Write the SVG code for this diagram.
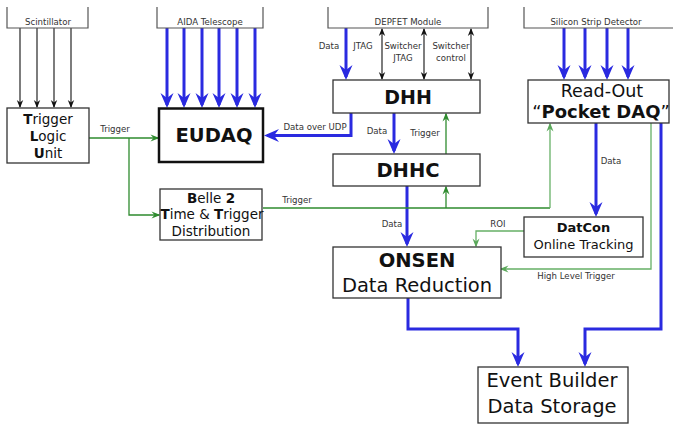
<svg xmlns="http://www.w3.org/2000/svg" width="673" height="426" viewBox="0 0 673 426">
<style>
text{font-family:"DejaVu Sans","Liberation Sans",sans-serif;text-anchor:middle;fill:#111}
.lbl{font-size:8.6px;fill:#333}
.br{fill:none;stroke:#555;stroke-width:1.2}
.box{fill:#fff;stroke:#333;stroke-width:1.3}
.blue{fill:none;stroke:#2a2ae0;stroke-width:3;marker-end:url(#ab)}
.blk{fill:none;stroke:#111;stroke-width:1.1;marker-end:url(#ak)}
.dbl{fill:none;stroke:#111;stroke-width:1.1;marker-end:url(#ak);marker-start:url(#ak)}
.g1{fill:none;stroke:#2e8b2e;stroke-width:1.3}
.g2{fill:none;stroke:#66b066;stroke-width:1.3}
.ga{marker-end:url(#ag)}
.gb{marker-end:url(#ag2)}
</style>
<defs>
<marker id="ab" viewBox="-16 -8 18 16" markerWidth="18" markerHeight="16" markerUnits="userSpaceOnUse" refX="-3" refY="0" orient="auto"><path d="M0,0 L-15,-6.5 L-10,0 L-15,6.5 Z" fill="#2a2ae0"/></marker>
<marker id="ak" viewBox="-10 -5 11 10" markerWidth="11" markerHeight="10" markerUnits="userSpaceOnUse" refX="-1" refY="0" orient="auto-start-reverse"><path d="M0,0 L-8,-3.2 L-5.5,0 L-8,3.2 Z" fill="#111"/></marker>
<marker id="ag" viewBox="-10 -5 11 10" markerWidth="11" markerHeight="10" markerUnits="userSpaceOnUse" refX="-1.5" refY="0" orient="auto"><path d="M0,0 L-9,-3.5 L-6,0 L-9,3.5 Z" fill="#2e8b2e"/></marker>
<marker id="ag2" viewBox="-10 -5 11 10" markerWidth="11" markerHeight="10" markerUnits="userSpaceOnUse" refX="-1.5" refY="0" orient="auto"><path d="M0,0 L-9,-3.5 L-6,0 L-9,3.5 Z" fill="#5aa85a"/></marker>
</defs>
<rect width="673" height="426" fill="#fff"/>

<g id="connectors">
<path class="blk" d="M20,28 V107"/>
<path class="blk" d="M37,28 V107"/>
<path class="blk" d="M54,28 V107"/>
<path class="blk" d="M71,28 V107"/>
<path class="blue" d="M167,28 V105"/>
<path class="blue" d="M184,28 V105"/>
<path class="blue" d="M202,28 V105"/>
<path class="blue" d="M219,28 V105"/>
<path class="blue" d="M237,28 V105"/>
<path class="blue" d="M255,28 V105"/>
<path class="blue" d="M346,28 V77"/>
<path class="dbl" d="M382,29 V79"/>
<path class="dbl" d="M424,29 V79"/>
<path class="dbl" d="M471,29 V79"/>
<path class="blue" d="M564,28 V77"/>
<path class="blue" d="M585,28 V77"/>
<path class="blue" d="M607,28 V77"/>
<path class="blue" d="M628,28 V77"/>
<path class="blue" d="M351,113 V135.5 H267"/>
<path class="blue" d="M394,113 V151"/>
<path class="blue" d="M407,186 V244"/>
<path class="blue" d="M596,123 V214"/>
<path class="blue" d="M408,298 V329 H518 V364"/>
<path class="blue" d="M661,123 V329 H585 V364"/>
<path class="g1 ga" d="M89,138 H158"/>
<path class="g1 ga" d="M129,138 V215 H159"/>
<path class="g1" d="M263,208 H550"/>
<path class="g2 gb" d="M550,208 V124"/>
<path class="g1 ga" d="M446,208 V187"/>
<path class="g1 ga" d="M446,154 V114"/>
<path class="g2 gb" d="M524,231 H476 V246"/>
<path class="g2 gb" d="M651,123 V269 H501"/>
<text class="lbl" x="115" y="132">Trigger</text>
<text class="lbl" x="315" y="130">Data over UDP</text>
<text class="lbl" x="329" y="49">Data</text>
<text class="lbl" x="363" y="49">JTAG</text>
<text class="lbl" x="403" y="49">Switcher</text>
<text class="lbl" x="403" y="61">JTAG</text>
<text class="lbl" x="451" y="49">Switcher</text>
<text class="lbl" x="451" y="61">control</text>
<text class="lbl" x="377" y="134">Data</text>
<text class="lbl" x="425" y="136">Trigger</text>
<text class="lbl" x="297" y="203">Trigger</text>
<text class="lbl" x="392" y="227">Data</text>
<text class="lbl" x="498" y="227">ROI</text>
<text class="lbl" x="611" y="164">Data</text>
<text class="lbl" x="576" y="279">High Level Trigger</text>
</g>

<g id="scintillator">
<path class="br" d="M7,7 V28 H88 V7"/>
<text class="lbl" x="48" y="25">Scintillator</text>
</g>
<g id="aida">
<path class="br" d="M157,7 V28 H263 V7"/>
<text class="lbl" x="210" y="25">AIDA Telescope</text>
</g>
<g id="depfet">
<path class="br" d="M328,7 V28 H488 V7"/>
<text class="lbl" x="408" y="25">DEPFET Module</text>
</g>
<g id="silicon">
<path class="br" d="M524,7 V28 H680"/>
<text class="lbl" x="596" y="25">Silicon Strip Detector</text>
</g>

<g id="tlu">
<rect class="box" x="7" y="108" width="82" height="55"/>
<text x="48" y="124" font-size="13.5"><tspan font-weight="bold">T</tspan>rigger</text>
<text x="48" y="141" font-size="13.5"><tspan font-weight="bold">L</tspan>ogic</text>
<text x="48" y="158" font-size="13.5"><tspan font-weight="bold">U</tspan>nit</text>
</g>

<g id="eudaq">
<rect x="159" y="108.5" width="104" height="53.5" fill="#fff" stroke="#111" stroke-width="2.5"/>
<text x="214" y="142" font-size="19.5" font-weight="bold">EUDAQ</text>
</g>

<g id="dhh">
<rect class="box" x="333" y="80" width="147" height="33"/>
<text x="408" y="104" font-size="19" font-weight="bold">DHH</text>
</g>

<g id="dhhc">
<rect class="box" x="333" y="154" width="147" height="32"/>
<text x="408" y="177" font-size="19.5" font-weight="bold">DHHC</text>
</g>

<g id="pocketdaq">
<rect class="box" x="528" y="80" width="141" height="43"/>
<text x="602" y="97" font-size="17.5">Read-Out</text>
<text x="601" y="118" font-size="18">“<tspan font-weight="bold">Pocket DAQ</tspan>”</text>
</g>

<g id="belle2">
<rect class="box" x="160" y="189" width="102" height="51"/>
<text x="211" y="203" font-size="13.5"><tspan font-weight="bold">B</tspan>elle <tspan font-weight="bold">2</tspan></text>
<text x="212" y="219" font-size="13.5"><tspan font-weight="bold">T</tspan>ime &amp; <tspan font-weight="bold">T</tspan>rigger</text>
<text x="211" y="236" font-size="13.5">Distribution</text>
</g>

<g id="datcon">
<rect class="box" x="524" y="217" width="119" height="40"/>
<text x="583.5" y="232" font-size="13" font-weight="bold">DatCon</text>
<text x="583.5" y="249" font-size="13">Online Tracking</text>
</g>

<g id="onsen">
<rect class="box" x="333" y="247" width="168" height="51"/>
<text x="417" y="267" font-size="19.5" font-weight="bold">ONSEN</text>
<text x="417" y="292" font-size="19.5">Data Reduction</text>
</g>

<g id="eventbuilder">
<rect class="box" x="478" y="367" width="150" height="56"/>
<text x="552" y="387" font-size="19.5">Event Builder</text>
<text x="552" y="413" font-size="19.5">Data Storage</text>
</g>
</svg>
